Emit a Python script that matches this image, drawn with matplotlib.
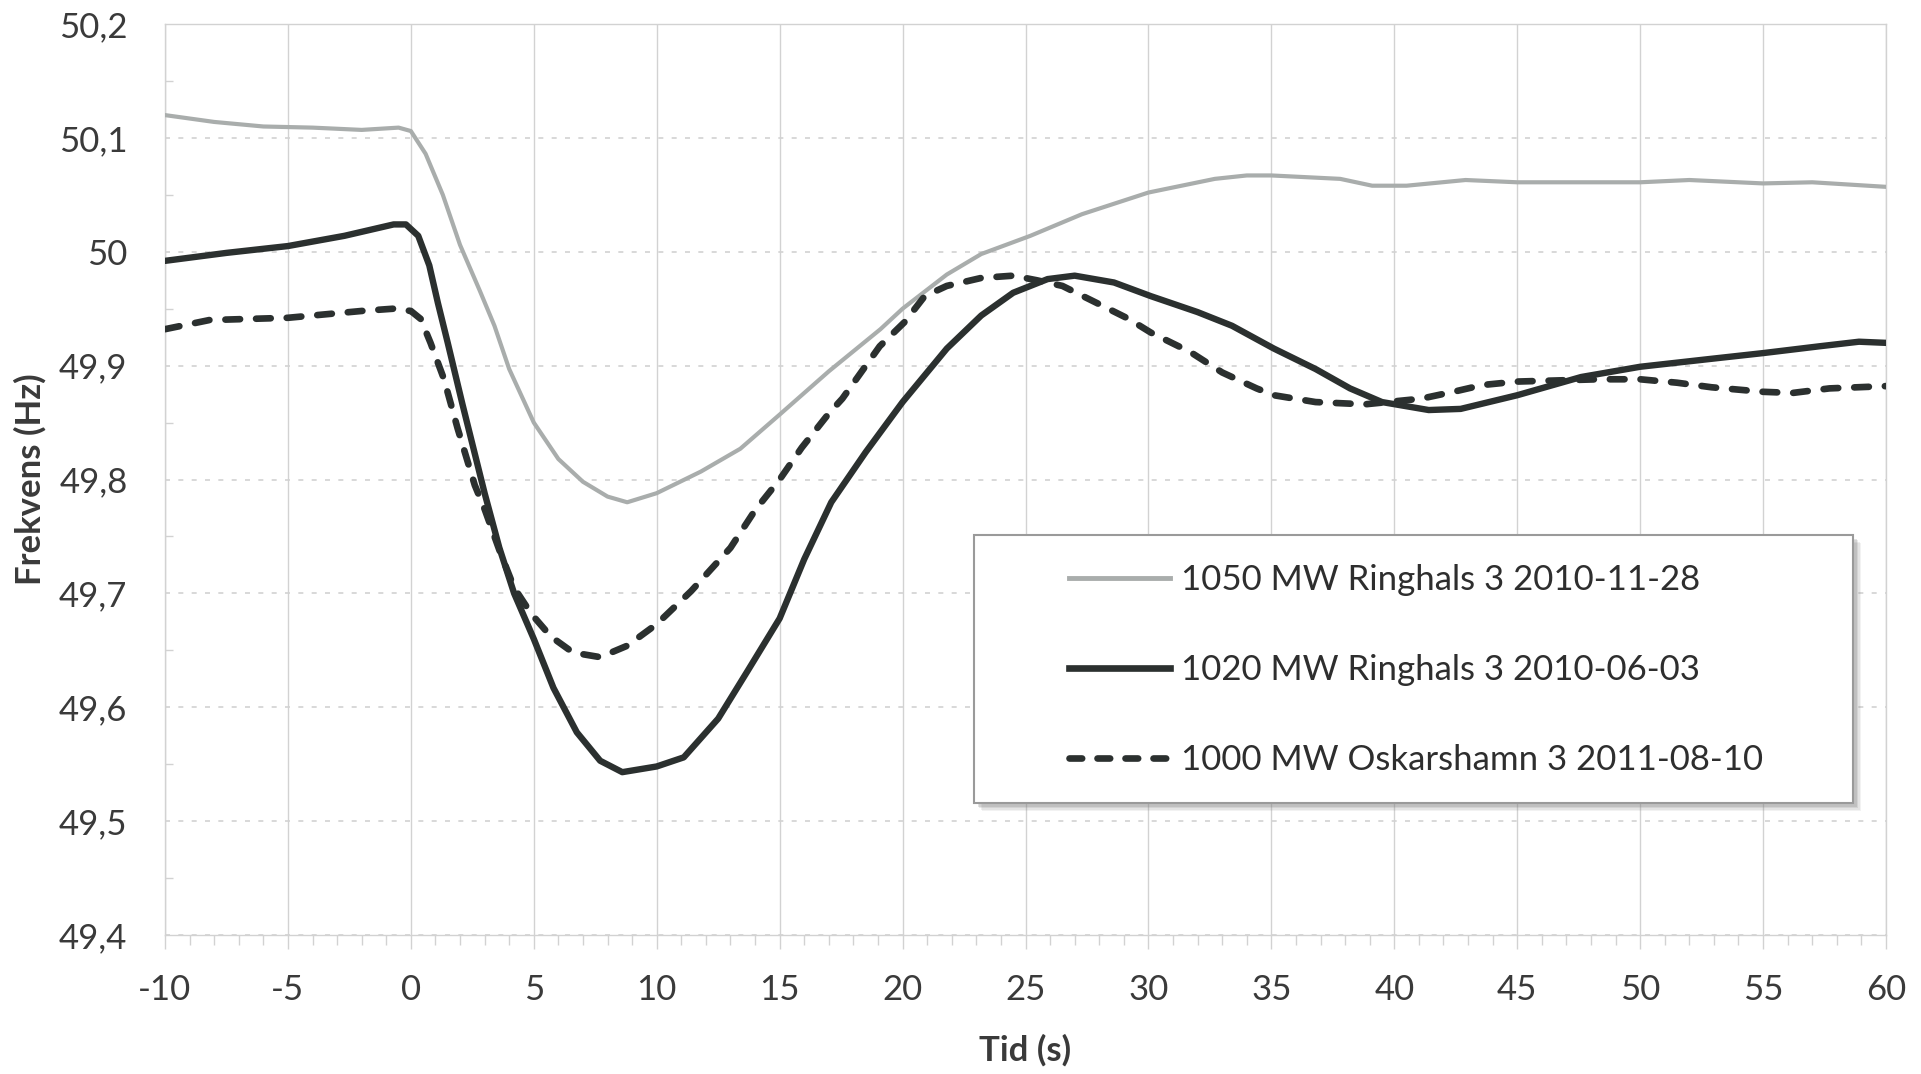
import matplotlib
matplotlib.use("Agg")
import matplotlib.pyplot as plt
from matplotlib.patches import Rectangle
from matplotlib.lines import Line2D
import numpy as np

plt.rcParams['font.family'] = ['Lato', 'DejaVu Sans']

# ---------------- data ----------------
t_1050 = [-10, -8, -6, -4, -2, -0.5, 0, 0.6, 1.3, 2.0, 2.8, 3.4, 4.0, 5.0, 6.0, 7.0, 8.0, 8.8,
          10.0, 11.8, 13.4, 15.0, 17.0, 19.1, 20.0, 21.8, 23.2, 25.2, 27.3, 30.0, 32.7, 34.0,
          35.0, 37.8, 39.1, 40.5, 42.9, 45, 50, 52, 55, 57, 60]
f_1050 = [50.120, 50.114, 50.110, 50.109, 50.107, 50.109, 50.106, 50.086, 50.050, 50.006,
          49.966, 49.935, 49.897, 49.850, 49.818, 49.798, 49.785, 49.780, 49.788, 49.807,
          49.827, 49.857, 49.895, 49.932, 49.950, 49.980, 49.998, 50.014, 50.033, 50.052,
          50.064, 50.067, 50.067, 50.064, 50.058, 50.058, 50.063, 50.061, 50.061, 50.063,
          50.060, 50.061, 50.057]

t_1020 = [-10, -7.5, -5, -2.7, -0.7, -0.2, 0.3, 0.75, 1.1, 1.5, 2.1, 3.0, 3.6, 4.2, 5.0, 5.8,
          6.75, 7.7, 8.6, 10.0, 11.1, 12.5, 13.7, 15.0, 16.0, 17.1, 18.5, 20.0, 21.8, 23.2,
          24.5, 25.9, 27.0, 28.6, 30.1, 32.0, 33.4, 35.1, 36.8, 38.2, 39.5, 41.4, 42.7, 45.0,
          47.6, 50.0, 52.9, 55.0, 57.3, 58.9, 60.0]
f_1020 = [49.992, 49.999, 50.005, 50.014, 50.024, 50.024, 50.014, 49.988, 49.955, 49.920,
          49.866, 49.788, 49.740, 49.700, 49.660, 49.617, 49.578, 49.553, 49.543, 49.548,
          49.556, 49.590, 49.632, 49.678, 49.730, 49.780, 49.824, 49.868, 49.915, 49.944,
          49.964, 49.976, 49.979, 49.973, 49.961, 49.947, 49.935, 49.915, 49.897, 49.880,
          49.868, 49.861, 49.862, 49.874, 49.890, 49.899, 49.906, 49.911, 49.917, 49.921,
          49.920]

t_1000 = [-10, -8.2, -5, -2, -0.7, 0, 0.4, 0.8, 1.35, 1.9, 2.6, 3.0, 3.6, 4.2, 4.9, 5.7, 6.6,
          7.7, 8.8, 10.0, 11.4, 13.0, 14.0, 15.0, 15.9, 17.0, 17.55, 19.07, 20.07, 20.9, 21.8,
          23.2, 24.5, 25.45, 26.5, 27.9, 29.2, 30.1, 31.7, 33.0, 34.4, 35.1, 36.8, 38.8, 41.1,
          42.4, 43.6, 45, 48.3, 50, 51.5, 52.9, 55, 56.2, 57.7, 60]
f_1000 = [49.932, 49.940, 49.942, 49.948, 49.950, 49.948, 49.941, 49.920, 49.888, 49.845,
          49.795, 49.774, 49.738, 49.705, 49.682, 49.662, 49.648, 49.644, 49.654, 49.673,
          49.702, 49.740, 49.773, 49.800, 49.828, 49.858, 49.871, 49.917, 49.938, 49.961,
          49.970, 49.977, 49.979, 49.975, 49.970, 49.955, 49.941, 49.929, 49.912, 49.894,
          49.880, 49.874, 49.868, 49.866, 49.871, 49.877, 49.883, 49.886, 49.888, 49.888,
          49.885, 49.881, 49.877, 49.876, 49.880, 49.882]

series_labels = ["1050 MW Ringhals 3 2010-11-28",
                 "1020 MW Ringhals 3 2010-06-03",
                 "1000 MW Oskarshamn 3 2011-08-10"]

x_ticks = [-10, -5, 0, 5, 10, 15, 20, 25, 30, 35, 40, 45, 50, 55, 60]
y_ticks = [49.4, 49.5, 49.6, 49.7, 49.8, 49.9, 50.0, 50.1, 50.2]
y_tick_labels = ["49,4", "49,5", "49,6", "49,7", "49,8", "49,9", "50", "50,1", "50,2"]
x_label = "Tid (s)"
y_label = "Frekvens (Hz)"

# ---------------- styling ----------------
W, H = 1921, 1074
DPI = 100
fig = plt.figure(figsize=(W / DPI, H / DPI), dpi=DPI)
fig.patch.set_facecolor("white")

ax_l, ax_r, ax_t, ax_b = 165, 1886, 24, 935
ax = fig.add_axes([ax_l / W, 1 - ax_b / H, (ax_r - ax_l) / W, (ax_b - ax_t) / H])

GRAY = "#a9adac"
DARK = "#2b302f"
TXT = "#3a3a3a"
GRID = "#d2d2d2"

ax.plot(t_1050, f_1050, color=GRAY, lw=3.0, solid_capstyle="round",
        solid_joinstyle="round", zorder=3)
ax.plot(t_1020, f_1020, color=DARK, lw=4.6, solid_capstyle="round",
        solid_joinstyle="round", zorder=4)
ax.plot(t_1000, f_1000, color=DARK, lw=4.8, dashes=(2.2, 2.4),
        dash_capstyle="round", dash_joinstyle="round", zorder=4)

ax.set_xlim(-10, 60)
ax.set_ylim(49.4, 50.2)
ax.set_xticks(x_ticks)
ax.set_xticklabels([str(v) for v in x_ticks])
ax.set_yticks(y_ticks)
ax.set_yticklabels(y_tick_labels)
ax.set_xticks(np.arange(-10, 61, 1), minor=True)
ax.set_yticks(np.arange(49.45, 50.2, 0.1), minor=True)

for v in x_ticks:
    ax.axvline(v, color=GRID, lw=1.0, zorder=1)
for v in y_ticks:
    ax.axhline(v, color=GRID, lw=1.2, dashes=(3, 5), zorder=1)

for s in ax.spines.values():
    s.set_color(GRID)
    s.set_linewidth(1.0)

ax.tick_params(axis="x", which="major", direction="out", length=10, width=1.0,
               color=GRID, labelsize=25, labelcolor=TXT, pad=18)
ax.tick_params(axis="x", which="minor", direction="out", length=7, width=1.0, color=GRID)
ax.tick_params(axis="y", which="major", length=0, labelsize=25, labelcolor=TXT, pad=27)
ax.tick_params(axis="y", which="minor", direction="in", length=6, width=1.0, color=GRID)

ax.set_xlabel(x_label, fontsize=25, fontweight="bold", color=TXT)
ax.set_ylabel(y_label, fontsize=25, fontweight="bold", color=TXT)
ax.xaxis.set_label_coords(0.5, -(1050 - ax_b) / (ax_b - ax_t), transform=ax.transAxes)
ax.xaxis.label.set_va("center")
ax.yaxis.set_label_coords(-(ax_l - 30) / (ax_r - ax_l), 0.5, transform=ax.transAxes)
ax.yaxis.label.set_va("center")

# ---------------- legend box with shadow ----------------
bx0, bx1, by0, by1 = 974, 1853, 535, 803
for i, a in enumerate([0.10, 0.12, 0.16, 0.22]):
    off = 8 - 1.5 * i
    fig.patches.append(Rectangle(((bx0 + off) / W, 1 - (by1 + off) / H),
                                 (bx1 - bx0) / W, (by1 - by0) / H,
                                 transform=fig.transFigure, facecolor="#808080",
                                 edgecolor="none", alpha=a, zorder=5))
fig.patches.append(Rectangle((bx0 / W, 1 - by1 / H), (bx1 - bx0) / W, (by1 - by0) / H,
                             transform=fig.transFigure, facecolor="white",
                             edgecolor="#9a9a9a", lw=1.5, zorder=6))

handles = [Line2D([], [], color=GRAY, lw=3.5),
           Line2D([], [], color=DARK, lw=4.8),
           Line2D([], [], color=DARK, lw=4.8, dashes=(1.9, 2.3), dash_capstyle="round")]
leg = fig.legend(handles, series_labels, loc="center left",
                 bbox_to_anchor=(1069 / W, 1 - 670 / H), bbox_transform=fig.transFigure,
                 frameon=False, fontsize=25, labelspacing=1.68, handlelength=2.9,
                 handletextpad=0.32, borderpad=0, borderaxespad=0)
leg.set_zorder(7)
for t in leg.get_texts():
    t.set_color("#2e2e2e")

fig.savefig("out.png", dpi=DPI, facecolor="white")
